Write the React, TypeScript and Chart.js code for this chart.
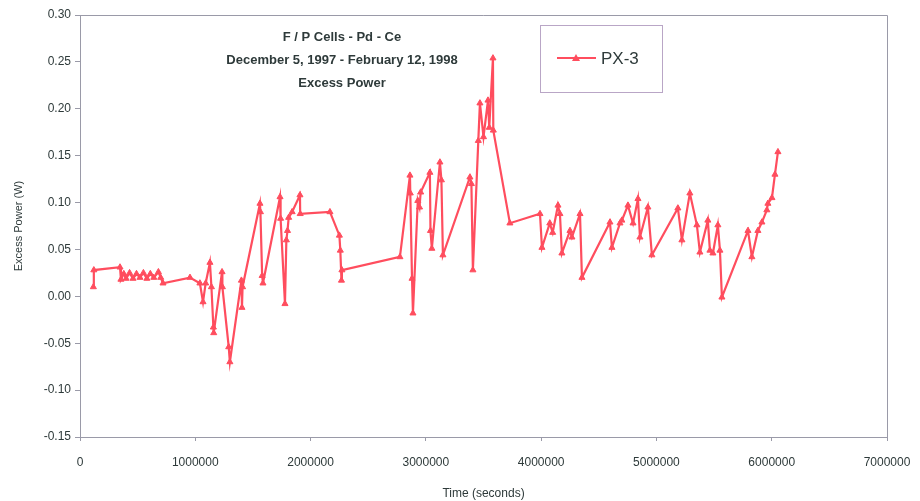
import React, { useEffect, useRef } from "react";
import { Chart, registerables } from "chart.js";

Chart.register(...registerables);

const titleLines = ["F / P Cells - Pd - Ce", "December 5, 1997 - February 12, 1998", "Excess Power"];
const seriesName = "PX-3";
const xTitle = "Time (seconds)";
const yTitle = "Excess Power (W)";

const timeSeconds = [
  116000, 120000, 347000, 355000, 380000, 400000, 430000, 460000, 490000, 520000,
  550000, 580000, 610000, 640000, 680000, 700000, 720000, 954000, 1040000, 1067000,
  1090000, 1127000, 1140000, 1157000, 1160000, 1232000, 1235000, 1290000, 1300000, 1400000,
  1405000, 1410000, 1561000, 1565000, 1580000, 1587000, 1735000, 1740000, 1778000, 1790000,
  1800000, 1810000, 1840000, 1908000, 1910000, 2168000, 2250000, 2258000, 2268000, 2272000,
  2775000, 2862000, 2865000, 2880000, 2888000, 2930000, 2945000, 2955000, 3035000, 3040000,
  3052000, 3122000, 3135000, 3148000, 3382000, 3395000, 3408000, 3455000, 3469000, 3500000,
  3539000, 3550000, 3582000, 3585000, 3729000, 3990000, 4007000, 4075000, 4100000, 4146000,
  4163000, 4180000, 4250000, 4267000, 4337000, 4354000, 4597000, 4614000, 4684000, 4700000,
  4753000, 4797000, 4840000, 4857000, 4926000, 4961000, 5186000, 5221000, 5290000, 5351000,
  5377000, 5446000, 5464000, 5490000, 5533000, 5551000, 5568000, 5794000, 5828000, 5880000,
  5915000, 5958000, 5967000, 6002000, 6028000, 6054000,
];

const excessPower = [
  0.010, 0.028, 0.031, 0.018, 0.024, 0.019, 0.025, 0.019, 0.024, 0.020,
  0.025, 0.019, 0.024, 0.020, 0.026, 0.020, 0.014, 0.020, 0.014, -0.006,
  0.014, 0.036, 0.010, -0.033, -0.039, 0.026, 0.010, -0.054, -0.070, 0.017,
  -0.012, 0.010, 0.099, 0.090, 0.022, 0.014, 0.106, 0.083, -0.008, 0.060,
  0.070, 0.084, 0.090, 0.108, 0.088, 0.090, 0.065, 0.049, 0.017, 0.028,
  0.042, 0.129, 0.110, 0.019, -0.018, 0.102, 0.095, 0.111, 0.132, 0.070,
  0.051, 0.143, 0.124, 0.044, 0.127, 0.120, 0.028, 0.166, 0.206, 0.170,
  0.209, 0.180, 0.254, 0.177, 0.078, 0.088, 0.052, 0.078, 0.068, 0.097,
  0.088, 0.046, 0.070, 0.063, 0.088, 0.020, 0.079, 0.052, 0.078, 0.081,
  0.097, 0.078, 0.104, 0.063, 0.095, 0.044, 0.094, 0.060, 0.110, 0.076,
  0.047, 0.081, 0.049, 0.046, 0.076, 0.049, -0.001, 0.070, 0.042, 0.070,
  0.079, 0.092, 0.099, 0.105, 0.130, 0.154,
];

const RED = "#ff4d5e";
const TEXT = "#2e3a3a";
const FONT = "'Liberation Sans', Arial, sans-serif";

const decorPlugin = {
  id: "decor",
  afterDraw(chart: any) {
    const { ctx, chartArea } = chart;
    const { left, right, top, bottom } = chartArea;
    ctx.save();
    ctx.strokeStyle = "#9a9aa8";
    ctx.lineWidth = 1;
    ctx.beginPath();
    ctx.moveTo(left, top + 0.5);
    ctx.lineTo(right + 0.5, top + 0.5);
    ctx.lineTo(right + 0.5, bottom);
    ctx.stroke();

    ctx.fillStyle = TEXT;
    ctx.font = `bold 13px ${FONT}`;
    ctx.textAlign = "center";
    ctx.textBaseline = "middle";
    const cx = 342;
    titleLines.forEach((t, i) => ctx.fillText(t, cx, 37 + i * 23));

    ctx.strokeStyle = "#b9a6c6";
    ctx.lineWidth = 1;
    ctx.strokeRect(540.5, 25.5, 122, 67);
    ctx.strokeStyle = RED;
    ctx.lineWidth = 2;
    ctx.beginPath();
    ctx.moveTo(557, 58);
    ctx.lineTo(596, 58);
    ctx.stroke();
    ctx.fillStyle = RED;
    ctx.beginPath();
    ctx.moveTo(576, 54);
    ctx.lineTo(580, 61);
    ctx.lineTo(572, 61);
    ctx.closePath();
    ctx.fill();
    ctx.fillStyle = TEXT;
    ctx.font = `17px ${FONT}`;
    ctx.textAlign = "left";
    ctx.fillText(seriesName, 601, 59);
    ctx.restore();
  },
};

export default function App() {
  const ref = useRef<HTMLCanvasElement>(null);
  useEffect(() => {
    if (!ref.current) return;
    const data = timeSeconds.map((t, i) => ({ x: t, y: excessPower[i] }));
    const chart = new Chart(ref.current, {
      type: "line",
      data: {
        datasets: [
          {
            label: seriesName,
            data,
            borderColor: RED,
            backgroundColor: RED,
            borderWidth: 2.2,
            pointStyle: "triangle",
            pointRadius: 3.5,
            pointBorderWidth: 1,
            tension: 0,
          },
        ],
      },
      options: {
        responsive: false,
        animation: false,
        layout: { padding: { top: 15, right: 33, left: 0, bottom: 0 } },
        plugins: {
          legend: { display: false },
          tooltip: { enabled: false },
          title: { display: false },
        },
        scales: {
          x: {
            type: "linear",
            min: 0,
            max: 7000000,
            grid: { drawOnChartArea: false, tickLength: 4, color: "#9a9aa8" },
            border: { color: "#9a9aa8" },
            ticks: {
              stepSize: 1000000,
              color: TEXT,
              font: { family: FONT, size: 12 },
              padding: 14,
              maxRotation: 0,
              callback: (v: any) => String(v),
            },
            title: {
              display: true,
              text: xTitle,
              color: TEXT,
              font: { family: FONT, size: 12 },
              padding: { top: 4, bottom: 0 },
            },
            afterFit: (s: any) => {
              s.height = 64;
              s.paddingRight = 0;
              s.paddingLeft = 0;
            },
          },
          y: {
            min: -0.15,
            max: 0.3,
            grid: { drawOnChartArea: false, tickLength: 5, color: "#9a9aa8" },
            border: { color: "#9a9aa8" },
            ticks: {
              stepSize: 0.05,
              color: TEXT,
              font: { family: FONT, size: 12 },
              padding: 4,
              callback: (v: any) => Number(v).toFixed(2),
            },
            title: {
              display: true,
              text: yTitle,
              color: TEXT,
              font: { family: FONT, size: 11 },
              padding: { top: 12, bottom: 0 },
            },
            afterFit: (s: any) => {
              s.width = 80;
            },
          },
        },
      },
      plugins: [decorPlugin],
    });
    return () => chart.destroy();
  }, []);
  return (
    <div style={{ position: "fixed", left: 0, top: 0, width: 920, height: 501, background: "#fff" }}>
      <canvas ref={ref} width={920} height={501} />
    </div>
  );
}
